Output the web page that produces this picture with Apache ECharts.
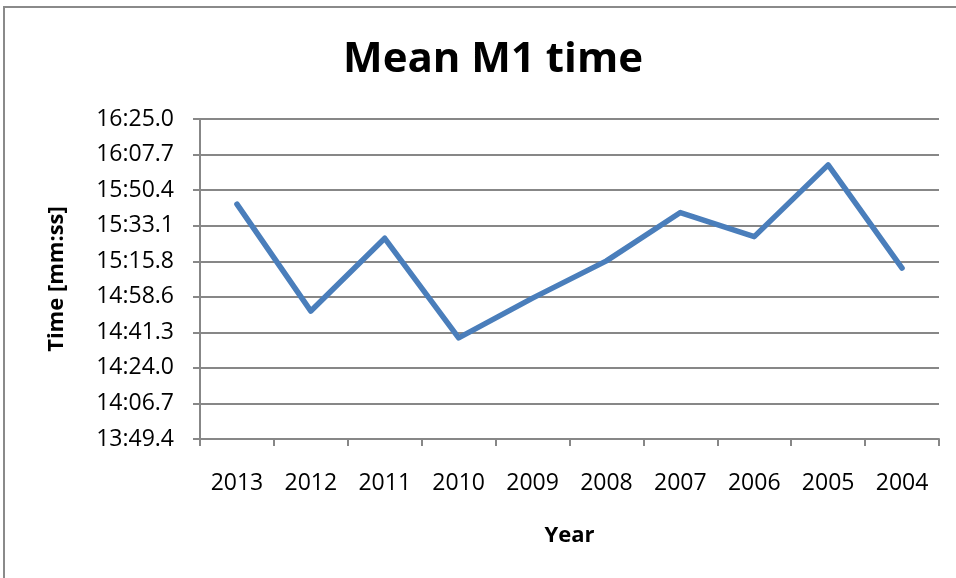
<!DOCTYPE html>
<html>
<head>
<meta charset="utf-8">
<script src="https://cdn.jsdelivr.net/npm/echarts@6/dist/echarts.min.js"></script>
<style>
  html, body { margin: 0; padding: 0; background: #fff; }
  #main { width: 956px; height: 578px; }
</style>
</head>
<body>
<div id="main"></div>
<script>
// data (seconds)
var years = ['2013', '2012', '2011', '2010', '2009', '2008', '2007', '2006', '2005', '2004'];
var meanTime = [943.6, 891.6, 927.0, 878.6, 897.9, 916.0, 939.5, 927.8, 962.7, 912.5];
var tickLabels = ['13:49.4', '14:06.7', '14:24.0', '14:41.3', '14:58.6',
  '15:15.8', '15:33.1', '15:50.4', '16:07.7', '16:25.0'];

function toSec(s) {
  var p = s.split(':');
  return parseInt(p[0], 10) * 60 + parseFloat(p[1]);
}
function fmt(v) {
  v = Math.round(v * 10) / 10;
  var m = Math.floor(v / 60);
  var s = (v - m * 60).toFixed(1);
  if (s.length < 4) s = '0' + s;
  return m + ':' + s;
}
var tickVals = tickLabels.map(toSec);

var chart = echarts.init(document.getElementById('main'));
var grey = '#878787';
var font = '"Open Sans", sans-serif';

var option = {
  backgroundColor: '#fff',
  animation: false,
  graphic: [{
    type: 'rect',
    shape: { x: 4, y: 7, width: 970, height: 590 },
    style: { fill: 'none', stroke: '#8a8a8a', lineWidth: 2 },
    silent: true
  }],
  title: {
    text: 'Mean M1 time',
    left: 488,
    top: 34,
    textAlign: 'center',
    textStyle: { fontFamily: font, fontSize: 42, fontWeight: 'bold', color: '#000' }
  },
  grid: { left: 200, right: 17, top: 119, bottom: 139 },
  xAxis: {
    type: 'category',
    data: years,
    boundaryGap: true,
    name: 'Year',
    nameLocation: 'middle',
    nameGap: 86,
    nameTextStyle: { fontFamily: font, fontSize: 22, fontWeight: 'bold', color: '#000' },
    axisLine: { lineStyle: { color: grey, width: 2 } },
    axisTick: { show: true, length: 7, lineStyle: { color: grey, width: 2 } },
    axisLabel: { margin: 33, fontFamily: font, fontSize: 23, color: '#000' },
    splitLine: { show: false }
  },
  yAxis: {
    type: 'value',
    min: tickVals[0],
    max: tickVals[tickVals.length - 1],
    name: 'Time [mm:ss]',
    nameLocation: 'middle',
    nameGap: 132,
    nameRotate: 90,
    nameTextStyle: { fontFamily: font, fontSize: 22, fontWeight: 'bold', color: '#000' },
    axisLine: { show: true, lineStyle: { color: grey, width: 2 } },
    axisTick: { show: true, length: 7, customValues: tickVals, lineStyle: { color: grey, width: 2 } },
    axisLabel: {
      customValues: tickVals,
      margin: 26,
      fontFamily: font,
      fontSize: 23,
      color: '#000',
      formatter: function (v) { return fmt(v); }
    },
    splitLine: { show: true, lineStyle: { color: grey, width: 2 } }
  },
  series: [{
    type: 'line',
    data: meanTime,
    showSymbol: false,
    symbol: 'none',
    lineStyle: { color: '#4a7ebb', width: 5.5, cap: 'round', join: 'round' }
  }]
};
chart.setOption(option);
</script>
</body>
</html>
